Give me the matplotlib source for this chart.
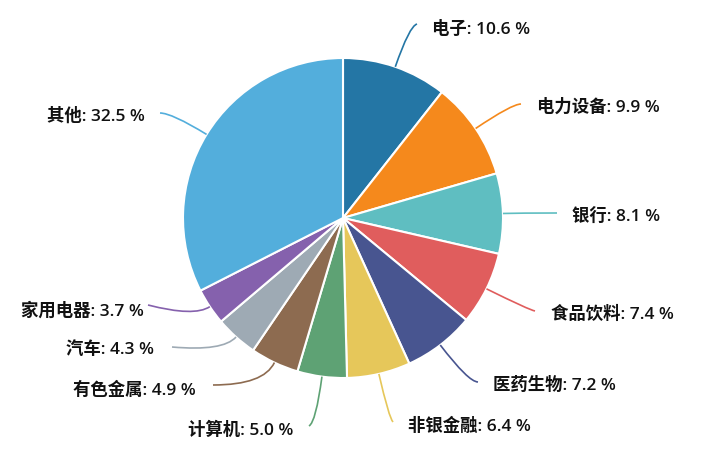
import numpy as np
import matplotlib
matplotlib.use("Agg")
import matplotlib.pyplot as plt
from matplotlib.path import Path
from matplotlib.patches import PathPatch

plt.rcParams['font.family'] = ['Open Sans', 'Noto Sans CJK SC', 'DejaVu Sans']

# data
sectors = ["电子", "电力设备", "银行", "食品饮料", "医药生物", "非银金融",
           "计算机", "有色金属", "汽车", "家用电器", "其他"]
shares = [10.6, 9.9, 8.1, 7.4, 7.2, 6.4, 5.0, 4.9, 4.3, 3.7, 32.5]
colors = ["#2476a5", "#f5891c", "#5fbec1", "#e05d5d", "#485590", "#e6c75a",
          "#5ea274", "#8d6b50", "#9eaab4", "#8561ad", "#53aedc"]

# layout (pixels): end of leader line and label anchor
line_end = [(417, 24), (521, 104), (557, 213), (535, 311), (478, 382), (393, 422),
            (309, 426), (213, 385), (172, 347), (148, 305), (160, 113)]
label_pos = [(432, 29), (537, 107), (572, 217), (551, 314), (493, 385), (408, 426),
             (293, 430), (196, 390), (154, 350), (144, 311), (145, 116)]

cx, cy, r = 343, 218, 160

fig = plt.figure(figsize=(7.27, 4.59), dpi=100)
ax = fig.add_axes([0, 0, 1, 1])
# y axis is inverted below, so counterclock=True draws clockwise on screen
ax.pie(shares, colors=colors, center=(cx, cy), radius=r, startangle=-90,
       counterclock=True,
       wedgeprops=dict(edgecolor="white", linewidth=1.5))
ax.set_xlim(0, 727)
ax.set_ylim(459, 0)
ax.set_aspect("equal")
ax.axis("off")

total = sum(shares)
start = 0.0
for i, (name, v) in enumerate(zip(sectors, shares)):
    mid = np.deg2rad((start + v / 2) / total * 360)
    start += v
    d = np.array([np.sin(mid), -np.cos(mid)])
    p0 = np.array([cx, cy]) + r * d
    p2 = np.array(line_end[i], dtype=float)
    L = np.linalg.norm(p2 - p0)
    if abs(d[1]) > 1e-3:
        t = (p2[1] - p0[1]) / d[1]
    else:
        t = L * 0.5
    t = min(max(t, 0.3 * L), 0.9 * L)
    p1 = p0 + t * d
    path = Path([p0, p1, p2], [Path.MOVETO, Path.CURVE3, Path.CURVE3])
    ax.add_patch(PathPatch(path, fill=False, edgecolor=colors[i], linewidth=1.2))

    lx, ly = label_pos[i]
    ha = "left" if lx > cx else "right"
    ax.text(lx, ly, f"{name}: {v:.1f} %", ha=ha, va="center",
            fontsize=12.5, fontweight="semibold", color="#111111")

fig.savefig("out.png", dpi=100)
